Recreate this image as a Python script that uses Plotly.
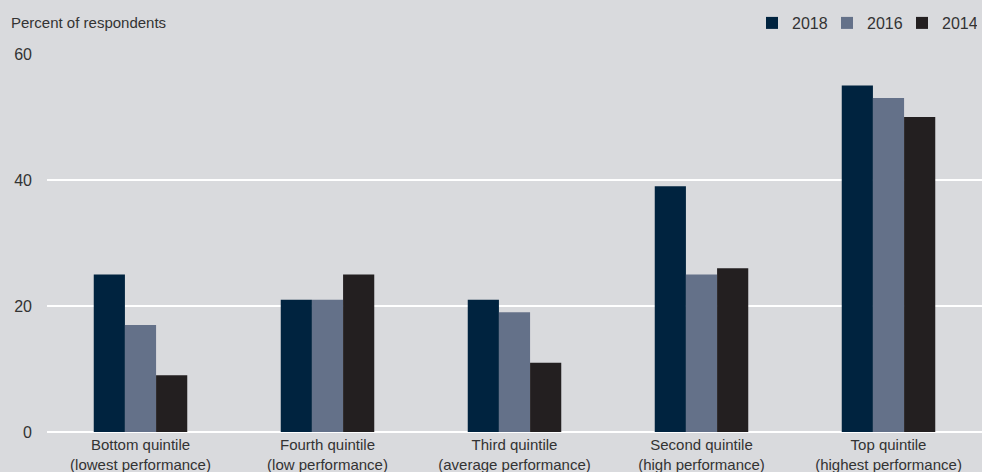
import plotly.graph_objects as go

categories = ["Bottom quintile<br>(lowest performance)", "Fourth quintile<br>(low performance)",
              "Third quintile<br>(average performance)", "Second quintile<br>(high performance)",
              "Top quintile<br>(highest performance)"]
years = ["2018", "2016", "2014"]
v2018 = [25, 21, 21, 39, 55]
v2016 = [17, 21, 19, 25, 53]
v2014 = [9, 25, 11, 26, 50]
colors = ["#00233f", "#647189", "#231f20"]

FONT = "Liberation Sans, Arial, sans-serif"
TXT = "#333333"
W, H = 982, 472
L, R, T, B = 47, 0, 54, 40
PW, PH = W - L - R, H - T - B

fig = go.Figure()
for name, vals, c in zip(years, [v2018, v2016, v2014], colors):
    fig.add_trace(go.Bar(x=categories, y=vals, name=name, marker=dict(color=c, line=dict(width=0))))

fig.update_layout(
    width=W, height=H,
    barmode="group", bargap=0.5, bargroupgap=0,
    paper_bgcolor="#d9dadd", plot_bgcolor="#d9dadd",
    font=dict(family=FONT, size=15, color=TXT),
    margin=dict(l=L, r=R, t=T, b=B, autoexpand=False),
    showlegend=True,
    legend=dict(orientation="h", x=1 - 5 / PW, xanchor="right", y=1 + (T - 23) / PH, yanchor="middle",
                font=dict(size=16, color=TXT), entrywidth=30, entrywidthmode="pixels",
                itemwidth=30, traceorder="normal", bgcolor="rgba(0,0,0,0)"),
    annotations=[dict(text="Percent of respondents", xref="paper", x=-(L - 9) / PW, xanchor="left",
                      yref="paper", y=1 + (T - 22) / PH, yanchor="middle", showarrow=False,
                      font=dict(size=15, color=TXT))],
)
fig.update_yaxes(range=[0, 60], tickvals=[0, 20, 40, 60], gridcolor="white", gridwidth=1.5,
                 zeroline=True, zerolinecolor="white", zerolinewidth=2, ticks="",
                 ticklabelstandoff=14, tickfont=dict(size=16))
fig.update_xaxes(showgrid=False, ticks="", tickfont=dict(size=15), ticklabelstandoff=2)
fig.write_html("out.html", config={"displayModeBar": False},
               post_script="document.body.style.margin='0';document.body.style.overflow='hidden';")
